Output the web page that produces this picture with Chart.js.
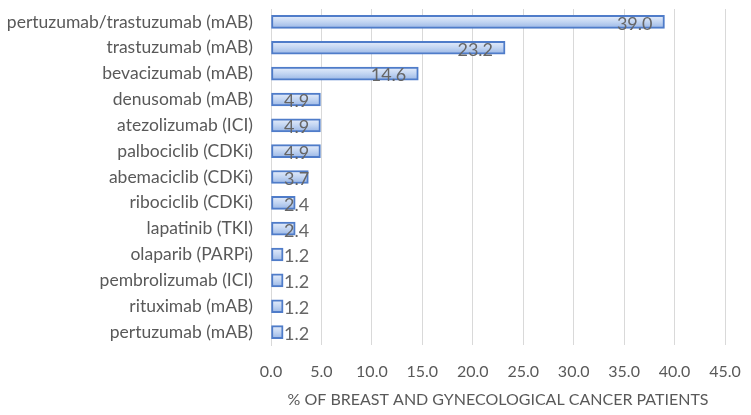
<!DOCTYPE html>
<html>
<head>
<meta charset="utf-8">
<script src="https://cdn.jsdelivr.net/npm/chart.js@4.4.0/dist/chart.umd.min.js"></script>
<style>
  html, body { margin: 0; padding: 0; background: #fff; }
  #wrap { width: 751px; height: 415px; }
</style>
</head>
<body>
<div id="wrap"><canvas id="drugChart" width="751" height="415"></canvas></div>
<script>
const drugs = [
  'pertuzumab/trastuzumab (mAB)',
  'trastuzumab (mAB)',
  'bevacizumab (mAB)',
  'denusomab (mAB)',
  'atezolizumab (ICI)',
  'palbociclib (CDKi)',
  'abemaciclib (CDKi)',
  'ribociclib (CDKi)',
  'lapatinib (TKI)',
  'olaparib (PARPi)',
  'pembrolizumab (ICI)',
  'rituximab (mAB)',
  'pertuzumab (mAB)'
];
const patientPct = [39.0, 23.2, 14.6, 4.9, 4.9, 4.9, 3.7, 2.4, 2.4, 1.2, 1.2, 1.2, 1.2];
const xTicks = [0, 5, 10, 15, 20, 25, 30, 35, 40, 45];

const FONT = 'Lato, "Open Sans", sans-serif';
const GREY = '#595959';

// gradient per bar, light on top, bluer toward the bottom
function barFill(c) {
  const chart = c.chart;
  const ys = chart.scales.y;
  if (!chart.chartArea || !ys) return '#c5d7f2';
  const yc = ys.getPixelForValue(c.dataIndex);
  const g = chart.ctx.createLinearGradient(0, yc - 6, 0, yc + 6);
  g.addColorStop(0, '#e4ecfa');
  g.addColorStop(0.5, '#c2d5f2');
  g.addColorStop(1, '#9cb8e6');
  return g;
}

// value labels at the inside end of the bar, pushed right when the bar is short
const valueLabels = {
  id: 'valueLabels',
  afterDatasetsDraw(chart) {
    const ctx = chart.ctx;
    const meta = chart.getDatasetMeta(0);
    const base = chart.scales.x.getPixelForValue(0);
    ctx.save();
    ctx.font = '18px ' + FONT;
    ctx.fillStyle = '#666';
    ctx.textBaseline = 'middle';
    ctx.textAlign = 'left';
    meta.data.forEach((bar, i) => {
      const txt = patientPct[i].toFixed(1);
      const w = ctx.measureText(txt).width;
      const x = Math.max(bar.x - w - 12, base + 13);
      ctx.fillText(txt, x, bar.y + 2);
    });
    ctx.restore();
  }
};

new Chart(document.getElementById('drugChart').getContext('2d'), {
  type: 'bar',
  data: {
    labels: drugs,
    datasets: [{
      data: patientPct,
      backgroundColor: barFill,
      borderColor: '#4f7cc9',
      borderWidth: 2,
      borderSkipped: false,
      barThickness: 13
    }]
  },
  options: {
    indexAxis: 'y',
    responsive: false,
    animation: false,
    layout: { padding: { top: 9, right: 26, bottom: 6, left: 0 } },
    plugins: {
      legend: { display: false },
      tooltip: { enabled: false }
    },
    scales: {
      x: {
        min: 0,
        max: 45,
        afterBuildTicks: axis => { axis.ticks = xTicks.map(v => ({ value: v })); },
        afterFit: axis => {
          axis.height = 64;
          axis.paddingLeft = 0;
          axis.paddingRight = 0;
        },
        ticks: {
          color: GREY,
          font: { family: FONT, size: 16 },
          padding: 17,
          callback: v => Number(v).toFixed(1)
        },
        grid: { color: '#d9d9d9', lineWidth: 1, drawTicks: false },
        border: { display: false },
        title: {
          display: true,
          text: '% OF BREAST AND GYNECOLOGICAL CANCER PATIENTS',
          color: GREY,
          font: { family: FONT, size: 16 },
          padding: { top: 0, bottom: 0 }
        }
      },
      y: {
        afterFit: axis => {
          axis.width = 271;
          axis.paddingTop = 0;
          axis.paddingBottom = 0;
        },
        ticks: {
          color: GREY,
          font: { family: FONT, size: 17.5 },
          padding: 18
        },
        grid: { display: false, drawTicks: false },
        border: { display: true, color: '#d9d9d9', width: 1 }
      }
    }
  },
  plugins: [valueLabels]
});
</script>
</body>
</html>
